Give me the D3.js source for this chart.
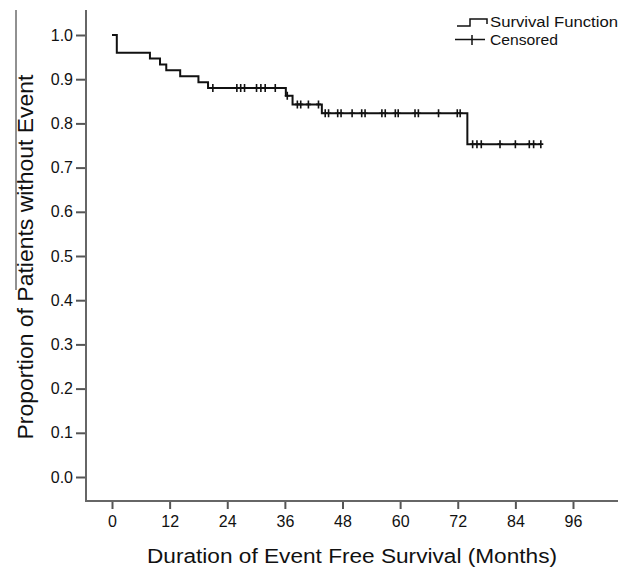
<!DOCTYPE html>
<html>
<head>
<meta charset="utf-8">
<script src="https://cdn.jsdelivr.net/npm/d3@7"></script>
<style>
  body { margin: 0; background: #fff; }
  text { font-family: "Liberation Sans", Arial, sans-serif; fill: #111; }
</style>
</head>
<body>
<div id="chart"></div>
<script>
// Kaplan-Meier step points (months, proportion)
const eventTimes = [0, 1.0, 7.9, 10.0, 11.3, 14.2, 18.0, 20.0, 36.2, 37.6, 43.7, 74.0];
const survival   = [1, 0.96, 0.9467, 0.9333, 0.92, 0.9067, 0.8933, 0.88, 0.8627, 0.843, 0.823, 0.753];
const lastTime = 89.3;

// censored observations (months)
const censorTimes = [21, 26, 26.8, 27.6, 30.1, 31, 31.9, 34, 36.5, 38.6, 39.3, 40.9, 43,
  44.4, 45.1, 47, 47.7, 50, 52, 52.7, 56.2, 56.9, 59, 59.6, 63.1, 63.8, 68, 71.9, 72.5,
  75.1, 76, 76.9, 80.8, 84, 86.9, 87.8, 89.3];

const xTicks = [0, 12, 24, 36, 48, 60, 72, 84, 96];
const yTicks = [0, 0.1, 0.2, 0.3, 0.4, 0.5, 0.6, 0.7, 0.8, 0.9, 1.0];

const width = 630, height = 568;

const x = d3.scaleLinear().domain([0, 96]).range([112, 573]);
const y = d3.scaleLinear().domain([0, 1]).range([477, 35]);

const svg = d3.select("#chart").append("svg")
    .attr("width", width)
    .attr("height", height);

// survival value at time t
function survAt(t) {
  let s = 1;
  eventTimes.forEach((e, i) => { if (e <= t) s = survival[i]; });
  return s;
}

// axes
const xAxis = svg.append("g")
    .attr("transform", "translate(0,501)")
    .call(d3.axisBottom(x).tickValues(xTicks).tickFormat(d3.format("d")).tickSize(8).tickPadding(7));
xAxis.select(".domain").remove();
xAxis.selectAll("line").attr("stroke", "#555").attr("stroke-width", 2);
xAxis.selectAll("text").attr("font-size", 16).attr("fill", "#111");

const yAxis = svg.append("g")
    .attr("transform", "translate(86,0)")
    .call(d3.axisLeft(y).tickValues(yTicks).tickFormat(d3.format(".1f")).tickSize(10).tickPadding(3));
yAxis.select(".domain").remove();
yAxis.selectAll("line").attr("stroke", "#555").attr("stroke-width", 2);
yAxis.selectAll("text").attr("font-size", 16).attr("fill", "#111");

svg.append("path")
    .attr("d", "M86,10V501H618")
    .attr("fill", "none")
    .attr("stroke", "#666")
    .attr("stroke-width", 2);

// survival curve
const pts = eventTimes.map((t, i) => [t, survival[i]]);
pts.push([lastTime, survival[survival.length - 1]]);
svg.append("path")
    .datum(pts)
    .attr("fill", "none")
    .attr("stroke", "#111")
    .attr("stroke-width", 2)
    .attr("d", d3.line().x(d => x(d[0])).y(d => y(d[1])).curve(d3.curveStepAfter));

// censor marks
svg.append("g")
    .selectAll("g")
    .data(censorTimes)
    .join("path")
    .attr("stroke", "#111")
    .attr("stroke-width", 1.6)
    .attr("d", d => `M${x(d)},${y(survAt(d)) - 4}v8M${x(d) - 2.5},${y(survAt(d))}h5`);

// axis titles
svg.append("text")
    .attr("x", 352).attr("y", 563)
    .attr("text-anchor", "middle")
    .attr("font-size", 20)
    .attr("textLength", 410).attr("lengthAdjust", "spacingAndGlyphs")
    .text("Duration of Event Free Survival (Months)");

svg.append("text")
    .attr("transform", "translate(33,257) rotate(-90)")
    .attr("text-anchor", "middle")
    .attr("font-size", 22)
    .attr("textLength", 365).attr("lengthAdjust", "spacingAndGlyphs")
    .text("Proportion of Patients without Event");

// frame edge visible at the left of the picture
svg.append("path")
    .attr("d", "M16,10V290")
    .attr("stroke", "#222")
    .attr("stroke-width", 1);

// legend
const legend = svg.append("g");
legend.append("path")
    .attr("d", "M457,26H470V19H487V24")
    .attr("fill", "none").attr("stroke", "#111").attr("stroke-width", 1.5);
legend.append("text")
    .attr("x", 490).attr("y", 26.5)
    .attr("font-size", 14)
    .attr("textLength", 128).attr("lengthAdjust", "spacingAndGlyphs")
    .text("Survival Function");
legend.append("path")
    .attr("d", "M455,39.5H485M472,35V45")
    .attr("fill", "none").attr("stroke", "#111").attr("stroke-width", 1.5);
legend.append("text")
    .attr("x", 490).attr("y", 45)
    .attr("font-size", 14)
    .attr("textLength", 68).attr("lengthAdjust", "spacingAndGlyphs")
    .text("Censored");
</script>
</body>
</html>
